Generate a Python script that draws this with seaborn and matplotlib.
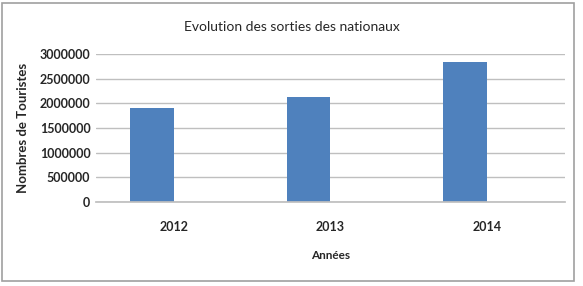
import matplotlib
matplotlib.use("Agg")
import matplotlib.pyplot as plt
import seaborn as sns
import pandas as pd
from matplotlib.patches import Rectangle

annees = ["2012", "2013", "2014"]
touristes = [1910000, 2135000, 2830000]
y_ticks = [0, 500000, 1000000, 1500000, 2000000, 2500000, 3000000]

sns.set_theme(style="whitegrid")
plt.rcParams["font.family"] = ["Lato", "DejaVu Sans"]

# Excel-style: the bar sits left of the category centre (empty second series)
df = pd.DataFrame({
    "Années": annees * 2,
    "Touristes": touristes + [0] * len(annees),
    "Série": ["Touristes"] * len(annees) + ["vide"] * len(annees),
})

fig = plt.figure(figsize=(5.83, 2.86), dpi=100)
ax = fig.add_axes([96 / 583, 1 - 202 / 286, 469 / 583, 148 / 286])

sns.barplot(data=df, x="Années", y="Touristes", hue="Série",
            hue_order=["Touristes", "vide"],
            palette={"Touristes": "#4F81BD", "vide": "#ffffff"},
            width=0.56, saturation=1, linewidth=0, legend=False, ax=ax)

ax.set_ylim(0, 3000000)
ax.set_xlim(-0.5, len(annees) - 0.5)
ax.set_yticks(y_ticks)
ax.set_yticklabels([str(v) for v in y_ticks], fontsize=9, fontweight="bold")
ax.set_xticks(range(len(annees)))
ax.set_xticklabels(annees, fontsize=9, fontweight="bold")
ax.tick_params(axis="x", pad=14, length=0)
ax.tick_params(axis="y", pad=4, length=0)
ax.grid(axis="y", color="#bfbfbf", linewidth=1)
ax.grid(axis="x", visible=False)
for s in ["top", "right", "left"]:
    ax.spines[s].set_visible(False)
ax.spines["bottom"].set_color("#bfbfbf")
ax.set_axisbelow(True)

ax.set_xlabel("Années", fontsize=8.5, fontweight="bold", labelpad=12)
ax.set_ylabel("Nombres de Touristes", fontsize=9.5, fontweight="bold", labelpad=8)

fig.text(0.5, 1 - 27 / 286, "Evolution des sorties des nationaux",
         ha="center", va="center", fontsize=10)

fig.patches.append(Rectangle((2 / 583, 1 - 281 / 286), 572 / 583, 278 / 286,
                             transform=fig.transFigure, fill=False,
                             edgecolor="#a0a0a0", linewidth=1.2))

fig.savefig("out.png", dpi=100)
